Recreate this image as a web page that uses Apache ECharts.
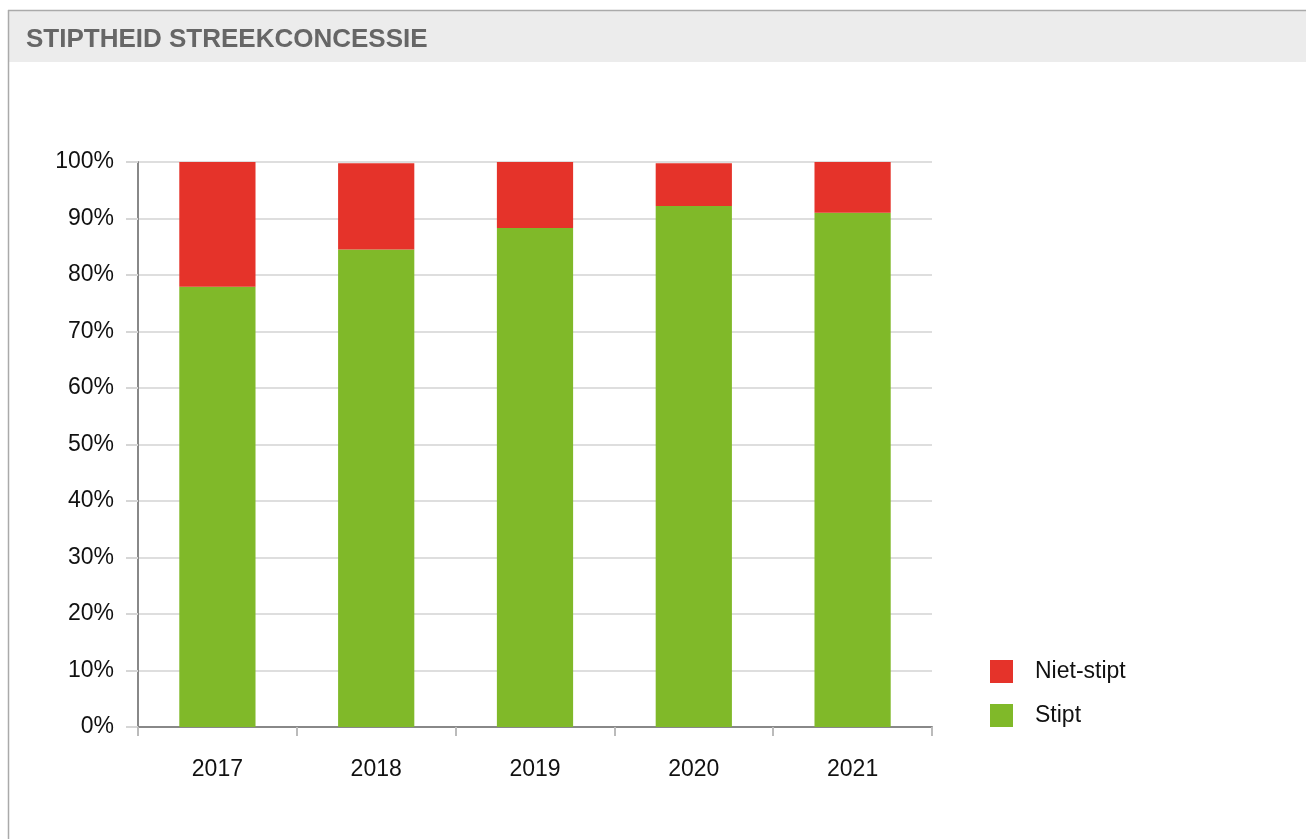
<!DOCTYPE html>
<html>
<head>
<meta charset="utf-8">
<script src="https://cdn.jsdelivr.net/npm/echarts@6/dist/echarts.min.js"></script>
<style>
  html, body { margin: 0; padding: 0; background: #fff; }
  #chart { width: 1306px; height: 839px; }
</style>
</head>
<body>
<div id="chart"></div>
<script>
const years = ['2017', '2018', '2019', '2020', '2021']
const stipt = [77.9, 84.5, 88.3, 92.2, 91.0]
const nietStipt = [22.1, 15.3, 11.7, 7.6, 9.0]
const yTicks = [0, 10, 20, 30, 40, 50, 60, 70, 80, 90, 100]

const GREEN = '#80b929'
const RED = '#e5332a'
const FONT = 'Liberation Sans'

const chart = echarts.init(document.getElementById('chart'))

chart.setOption({
  animation: false,
  textStyle: { fontFamily: FONT },
  graphic: [
    { type: 'rect', shape: { x: 9, y: 11, width: 1297, height: 51 }, style: { fill: '#ececec' }, silent: true },
    { type: 'line', shape: { x1: 8, y1: 10.5, x2: 1306, y2: 10.5 }, style: { stroke: '#aaa', lineWidth: 1.5 } },
    { type: 'line', shape: { x1: 8.5, y1: 10, x2: 8.5, y2: 839 }, style: { stroke: '#aaa', lineWidth: 1.5 } },
  ],
  title: {
    text: 'STIPTHEID STREEKCONCESSIE',
    left: 21,
    top: 22,
    textStyle: { fontFamily: FONT, fontSize: 26, fontWeight: 'bold', color: '#666' },
  },
  legend: {
    orient: 'vertical',
    left: 985,
    top: 655,
    itemWidth: 23,
    itemHeight: 23,
    itemGap: 21,
    icon: 'rect',
    data: ['Niet-stipt', 'Stipt'],
    textStyle: { fontFamily: FONT, fontSize: 23, color: '#111', padding: [6, 0, 0, 17] },
  },
  grid: { left: 138, right: 374, top: 162, bottom: 112, containLabel: false },
  xAxis: {
    type: 'category',
    data: years,
    axisLine: { lineStyle: { color: '#888', width: 2 } },
    axisTick: { show: true, length: 9, lineStyle: { color: '#bbb', width: 2 } },
    axisLabel: { fontFamily: FONT, fontSize: 23, color: '#111', margin: 31 },
  },
  yAxis: {
    type: 'value',
    min: 0,
    max: 100,
    interval: 10,
    axisLine: { show: true, lineStyle: { color: '#888', width: 2 } },
    axisTick: { show: true, length: 12, lineStyle: { color: '#d6d6d6', width: 2 } },
    splitLine: { lineStyle: { color: '#dedede', width: 2 } },
    axisLabel: {
      fontFamily: FONT,
      fontSize: 23,
      color: '#111',
      margin: 24,
      padding: [5, 0, 0, 0],
      formatter: (v) => yTicks.includes(v) ? v + '%' : '',
    },
  },
  series: [
    {
      name: 'Stipt',
      type: 'bar',
      stack: 'total',
      barWidth: '48%',
      data: stipt,
      itemStyle: { color: GREEN },
    },
    {
      name: 'Niet-stipt',
      type: 'bar',
      stack: 'total',
      barWidth: '48%',
      data: nietStipt,
      itemStyle: { color: RED },
    },
  ],
})
</script>
</body>
</html>
